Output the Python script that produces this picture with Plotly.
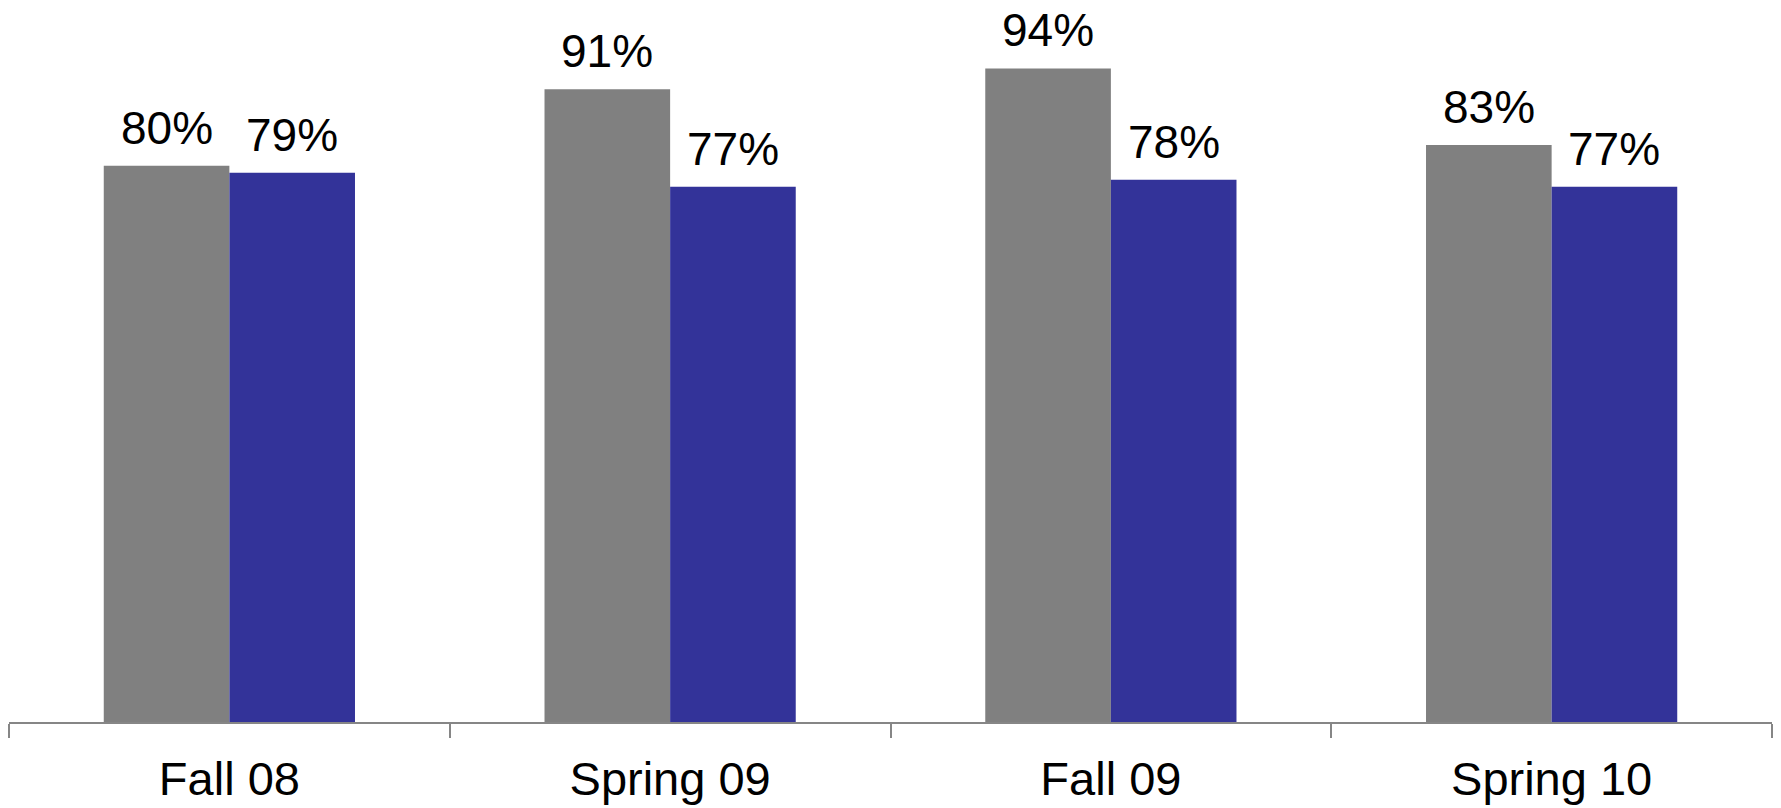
import plotly.graph_objects as go

terms = ["Fall 08", "Spring 09", "Fall 09", "Spring 10"]
series_a = [80, 91, 94, 83]
series_b = [79, 77, 78, 77]

gray = "#808080"
blue = "#333399"
font_family = "Liberation Sans, Arial, sans-serif"

fig = go.Figure()
fig.add_trace(go.Bar(x=terms, y=series_a, marker=dict(color=gray, line=dict(width=0)),
                     offsetgroup="a", showlegend=False, hoverinfo="skip"))
fig.add_trace(go.Bar(x=terms, y=series_b, marker=dict(color=blue, line=dict(width=0)),
                     offsetgroup="b", showlegend=False, hoverinfo="skip"))

# value labels above each bar
bar_w = 0.285
for i, t in enumerate(terms):
    for vals, off in ((series_a, -bar_w / 2), (series_b, bar_w / 2)):
        fig.add_annotation(x=i + off, y=vals[i], xref="x", yref="y",
                           text=f"{vals[i]}%", showarrow=False,
                           yanchor="bottom", yshift=10,
                           font=dict(size=46, color="black", family=font_family))

fig.update_layout(
    width=1781, height=808,
    margin=dict(l=9, r=9, t=0, b=86),
    paper_bgcolor="white", plot_bgcolor="white",
    barmode="group", bargap=0.43, bargroupgap=0,
    font=dict(family=font_family, color="black"),
)
fig.update_xaxes(
    showline=True, linecolor="#868686", linewidth=2,
    ticks="outside", tickson="boundaries", ticklen=14, tickwidth=2, tickcolor="#868686",
    tickfont=dict(size=47, color="black", family=font_family),
    ticklabelstandoff=15,
    showgrid=False, zeroline=False,
)
fig.update_yaxes(range=[0, 103.85], visible=False, showgrid=False, zeroline=False)

fig.write_html("out.html")
